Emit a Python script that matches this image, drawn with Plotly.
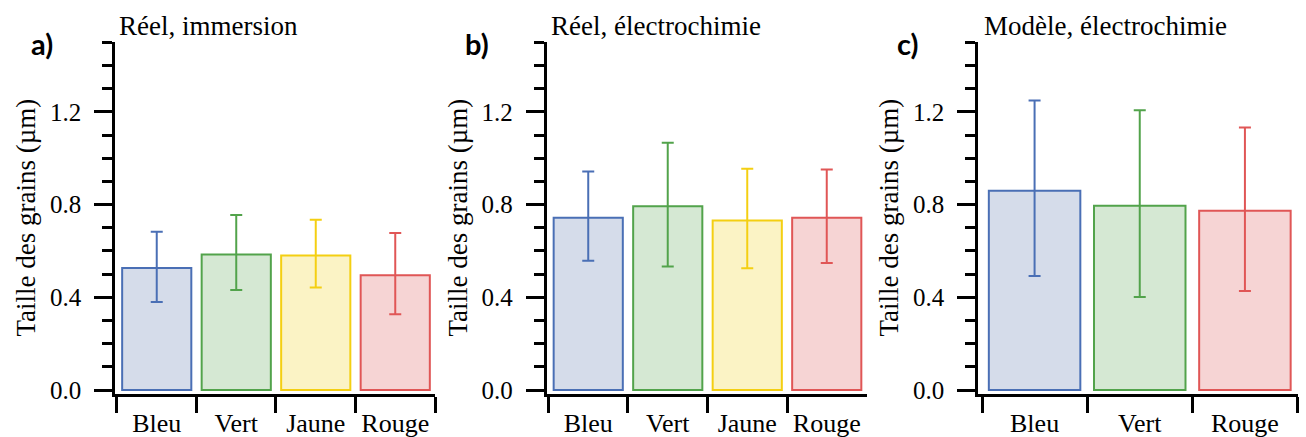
import plotly.graph_objects as go

# ---------------- data ----------------
cats_a = ["Bleu", "Vert", "Jaune", "Rouge"]
vals_a = [0.526, 0.585, 0.580, 0.495]
err_up_a = [0.157, 0.170, 0.155, 0.183]
err_dn_a = [0.146, 0.153, 0.138, 0.168]

cats_b = ["Bleu", "Vert", "Jaune", "Rouge"]
vals_b = [0.743, 0.793, 0.731, 0.743]
err_up_b = [0.200, 0.274, 0.224, 0.208]
err_dn_b = [0.185, 0.260, 0.206, 0.195]

cats_c = ["Bleu", "Vert", "Rouge"]
vals_c = [0.860, 0.795, 0.773]
err_up_c = [0.389, 0.412, 0.360]
err_dn_c = [0.368, 0.394, 0.346]

titles = ["Réel, immersion", "Réel, électrochimie", "Modèle, électrochimie"]
letters = ["a)", "b)", "c)"]
y_title = "Taille des grains (µm)"

edge = {"Bleu": "#4a6fb5", "Vert": "#52a34b", "Jaune": "#f4cf12", "Rouge": "#e05656"}
fill = {"Bleu": "#d5dcea", "Vert": "#d5e8d3", "Jaune": "#fbf3c5", "Rouge": "#f6d4d4"}

# ---------------- layout geometry (pixels) ----------------
W, H = 1306, 437
SERIF = "Liberation Serif, 'Times New Roman', 'DejaVu Serif', serif"
ytop_px, ybot_px = 42.25, 394.2
panels = [
    dict(cats=cats_a, vals=vals_a, up=err_up_a, dn=err_dn_a, x0=115, x1=435, xr=[-0.525, 3.5],
         title_x=117, letter_x=42, axt_x=25),
    dict(cats=cats_b, vals=vals_b, up=err_up_b, dn=err_dn_b, x0=546.5, x1=866.5, xr=[-0.525, 3.5],
         title_x=549, letter_x=477, axt_x=457),
    dict(cats=cats_c, vals=vals_c, up=err_up_c, dn=err_dn_c, x0=978, x1=1297.5, xr=[-0.538, 2.5],
         title_x=982, letter_x=907, axt_x=888),
]

fig = go.Figure()
annotations = []
layout = {}
for i, p in enumerate(panels):
    n = "" if i == 0 else str(i + 1)
    xa, ya = "x" + n, "y" + n
    fig.add_trace(go.Bar(
        x=p["cats"], y=p["vals"], xaxis=xa, yaxis=ya,
        marker=dict(color=[fill[c] for c in p["cats"]],
                    line=dict(color=[edge[c] for c in p["cats"]], width=2)),
        showlegend=False,
    ))
    for c, v, u, d in zip(p["cats"], p["vals"], p["up"], p["dn"]):
        fig.add_trace(go.Scatter(
            x=[c], y=[v], xaxis=xa, yaxis=ya, mode="markers",
            marker=dict(size=0.1, color="rgba(0,0,0,0)"),
            error_y=dict(type="data", symmetric=False, array=[u], arrayminus=[d],
                         color=edge[c], thickness=2, width=6),
            showlegend=False, hoverinfo="skip",
        ))
    layout["xaxis" + n] = dict(
        domain=[p["x0"] / W, p["x1"] / W], anchor=ya, range=p["xr"], automargin=False,
        type="category", showline=True, linecolor="black", linewidth=2.5,
        ticks="outside", tickson="boundaries", ticklen=16, tickwidth=2.5, tickcolor="black",
        showgrid=False, zeroline=False, fixedrange=True,
        tickfont=dict(family=SERIF, size=26, color="black"),
        ticklabelstandoff=4,
    )
    layout["yaxis" + n] = dict(
        domain=[1 - ybot_px / H, 1 - ytop_px / H], anchor=xa, range=[-0.018, 1.5005], automargin=False,
        showline=True, linecolor="black", linewidth=2.5,
        ticks="outside", ticklen=18, tickwidth=2.5, tickcolor="black",
        tickmode="array", tickvals=[0, 0.4, 0.8, 1.2], ticktext=["0.0", "0.4", "0.8", "1.2"],
        minor=dict(ticks="outside", ticklen=10, tickwidth=2.5, tickcolor="black",
                   tickmode="array", tickvals=[0.1, 0.2, 0.3, 0.5, 0.6, 0.7, 0.9, 1.0, 1.1, 1.3, 1.4, 1.5],
                   showgrid=False),
        showgrid=False, zeroline=False, fixedrange=True,
        tickfont=dict(family=SERIF, size=25, color="black"),
        ticklabelstandoff=8,
    )
    annotations.append(dict(text=titles[i], x=p["title_x"] / W, y=1 - 26 / H, xref="paper", yref="paper",
                            xanchor="left", yanchor="middle", showarrow=False,
                            font=dict(family=SERIF, size=27, color="black")))
    annotations.append(dict(text="<b>" + letters[i] + "</b>", x=p["letter_x"] / W, y=1 - 43 / H,
                            xref="paper", yref="paper", xanchor="center", yanchor="middle", showarrow=False,
                            font=dict(family="Lato", size=29, color="black")))
    annotations.append(dict(text=y_title, x=p["axt_x"] / W, y=1 - 217.5 / H, xref="paper", yref="paper",
                            xanchor="center", yanchor="middle", textangle=-90, showarrow=False,
                            font=dict(family=SERIF, size=27, color="black")))

fig.update_layout(
    width=W, height=H, margin=dict(l=0, r=0, t=0, b=0, autoexpand=False),
    paper_bgcolor="white", plot_bgcolor="white",
    bargap=0.13, annotations=annotations, **layout,
)
fig.write_html("out.html", config={"displayModeBar": False},
               post_script="document.body.style.margin='0';document.body.style.overflow='hidden';")
